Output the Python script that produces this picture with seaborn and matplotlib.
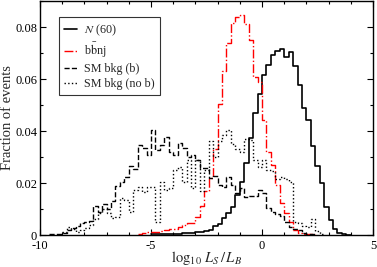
# Import libraries
import numpy as np
import pandas as pd
import matplotlib
matplotlib.use("Agg")
import matplotlib.pyplot as plt
from matplotlib.ticker import MultipleLocator, FuncFormatter
import seaborn as sns

# Bin width of all histograms (log10 LS/LB)
bin_width = 0.2

# N (60) signal, first bin starts at -5.0
n60_start = -5.0
n60 = [0.0002, 0.0002, 0.0003, 0.0003, 0.0004, 0.0005, 0.0005, 0.0006, 0.0007, 0.0008,
       0.0010, 0.0012, 0.0015, 0.0020, 0.0033, 0.0042, 0.0065, 0.0084, 0.0109, 0.0154,
       0.0205, 0.0276, 0.0372, 0.0468, 0.0542, 0.0615, 0.0654, 0.0692, 0.0709, 0.0714,
       0.0683, 0.0705, 0.0651, 0.0577, 0.0487, 0.0442, 0.0344, 0.0267, 0.0199, 0.0109,
       0.0058, 0.0022, 0.0009, 0.0003, 0.0001]

# bbnj, first bin starts at -5.6
bbnj_start = -5.6
bbnj = [0.0005, 0.0008, 0.0010, 0.0012, 0.0010, 0.0015, 0.0018, 0.0022, 0.0025, 0.0030,
        0.0040, 0.0045, 0.0045, 0.0070, 0.0110, 0.0170, 0.0220, 0.0330, 0.0505, 0.0632,
        0.0740, 0.0814, 0.0840, 0.0846, 0.0812, 0.0750, 0.0609, 0.0590, 0.0442, 0.0321,
        0.0269, 0.0192, 0.0122, 0.0083, 0.0051, 0.0019, 0.0009, 0.0005, 0.0003, 0.0002]

# SM background with b, first bin starts at -9.6
smb_start = -9.6
smb = [0.0002, 0.0003, 0.0005, 0.0009, 0.0018, 0.0026, 0.0035, 0.0045, 0.0050, 0.0052,
       0.0110, 0.0090, 0.0118, 0.0100, 0.0130, 0.0190, 0.0205, 0.0225, 0.0265, 0.0255,
       0.0346, 0.0333, 0.0308, 0.0404, 0.0327, 0.0346, 0.0378, 0.0321, 0.0308, 0.0353,
       0.0333, 0.0300, 0.0308, 0.0290, 0.0256, 0.0256, 0.0218, 0.0227, 0.0192, 0.0186,
       0.0224, 0.0192, 0.0163, 0.0180, 0.0147, 0.0151, 0.0150, 0.0173, 0.0163, 0.0105,
       0.0090, 0.0082, 0.0074, 0.0051, 0.0032, 0.0025, 0.0018, 0.0008, 0.0004, 0.0002]

# SM background without b, first bin starts at -9.0
smnob_start = -9.0
smnob = [0.0010, 0.0030, 0.0025, 0.0012, 0.0020, 0.0028, 0.0040, 0.0060, 0.0085, 0.0100,
         0.0085, 0.0065, 0.0070, 0.0141, 0.0135, 0.0090, 0.0173, 0.0186, 0.0167, 0.0186,
         0.0186, 0.0051, 0.0205, 0.0173, 0.0180, 0.0250, 0.0260, 0.0205, 0.0290, 0.0180,
         0.0290, 0.0170, 0.0250, 0.0360, 0.0300, 0.0360, 0.0385, 0.0405, 0.0350, 0.0330,
         0.0320, 0.0370, 0.0365, 0.0290, 0.0260, 0.0290, 0.0250, 0.0245, 0.0215, 0.0225,
         0.0215, 0.0205, 0.0050, 0.0045, 0.0033, 0.0030, 0.0060, 0.0015, 0.0004]

labels = [r"$N$ (60)", r"b$\bar{\mathrm{b}}$nj", "SM bkg (b)", "SM bkg (no b)"]

# Set style
sns.set_theme(style="ticks")
plt.rcParams["font.family"] = ["Liberation Serif", "DejaVu Serif"]
plt.rcParams["mathtext.fontset"] = "stix"
plt.rcParams["axes.unicode_minus"] = False

fig = plt.figure(figsize=(3.77, 2.67), dpi=100)
ax = fig.add_axes([40 / 377, 32 / 267, 333 / 377, 234 / 267])

series = [
    (n60_start, n60, labels[0], "black", "-", 1.2),
    (bbnj_start, bbnj, labels[1], "red", "-.", 1.0),
    (smb_start, smb, labels[2], "black", "--", 1.0),
    (smnob_start, smnob, labels[3], "black", ":", 1.0),
]

for start, vals, lab, col, ls, lw in series:
    n = len(vals)
    centers = start + bin_width * (np.arange(n) + 0.5)
    df = pd.DataFrame({"x": centers, "w": vals})
    sns.histplot(data=df, x="x", weights="w", binwidth=bin_width,
                 binrange=(start, start + n * bin_width), element="step", fill=False,
                 color=col, linestyle=ls, linewidth=lw, label=lab, ax=ax)

ax.set_xlim(-10, 5)
ax.set_ylim(0, 0.09)
ax.xaxis.set_major_locator(MultipleLocator(5))
ax.xaxis.set_minor_locator(MultipleLocator(1))
ax.yaxis.set_major_locator(MultipleLocator(0.02))
ax.yaxis.set_minor_locator(MultipleLocator(0.01))
ax.yaxis.set_major_formatter(FuncFormatter(lambda v, _: "0" if abs(v) < 1e-9 else f"{v:.2f}"))
ax.xaxis.set_major_formatter(FuncFormatter(lambda v, _: f"{v:.0f}"))

ax.tick_params(which="both", direction="in", top=True, right=True, width=0.8,
               labelsize=9, colors="black")
ax.tick_params(axis="y", pad=2)
ax.tick_params(axis="x", pad=3.8)
ax.tick_params(which="major", length=4.5)
ax.tick_params(which="minor", length=2.5)
for sp in ax.spines.values():
    sp.set_linewidth(1.0)
    sp.set_color("black")

ax.set_xlabel(r"$\log_{10}\,L_S\,/\,L_B$", fontsize=10.5, labelpad=-2.5)
ax.set_ylabel("Fraction of events", fontsize=10.5, labelpad=1)

leg = ax.legend(loc="upper left", bbox_to_anchor=(0.057, 0.932), borderaxespad=0,
                fontsize=8.7, frameon=True, fancybox=False, handlelength=1.0,
                handletextpad=0.6, labelspacing=0.25, borderpad=0.45)
leg.get_frame().set_edgecolor("black")
leg.get_frame().set_linewidth(0.8)

fig.savefig("out.png", dpi=100)
